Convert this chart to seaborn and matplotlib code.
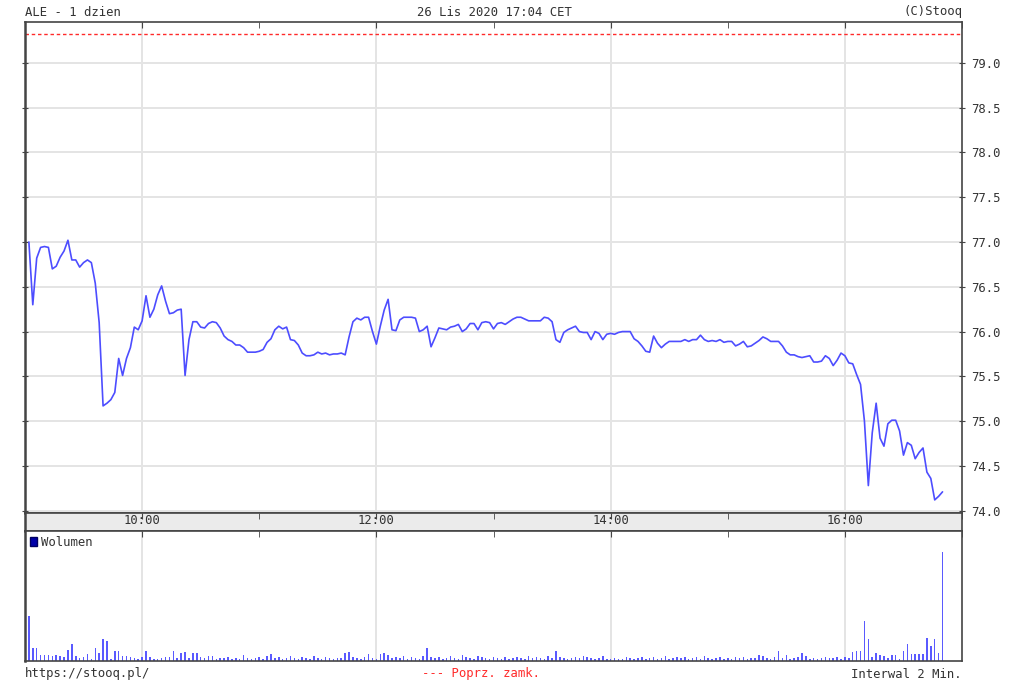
import pandas as pd
import matplotlib
matplotlib.use("Agg")
import matplotlib.pyplot as plt
import seaborn as sns
from matplotlib.patches import Patch
from matplotlib.ticker import MultipleLocator, FixedLocator, FuncFormatter

# ALE intraday quotes, 2-minute interval, 26 Nov 2020
price = [
    77.00, 76.30, 76.82, 76.94, 76.95, 76.94, 76.70, 76.73, 76.83, 76.90,
    77.02, 76.80, 76.80, 76.72, 76.77, 76.80, 76.77, 76.54, 76.10, 75.17,
    75.20, 75.24, 75.32, 75.70, 75.51, 75.70, 75.82, 76.05, 76.02, 76.12,
    76.40, 76.16, 76.25, 76.41, 76.51, 76.34, 76.20, 76.21, 76.24, 76.25,
    75.51, 75.91, 76.11, 76.11, 76.05, 76.04, 76.09, 76.11, 76.10, 76.04,
    75.95, 75.91, 75.89, 75.85, 75.85, 75.82, 75.77, 75.77, 75.77, 75.78,
    75.80, 75.88, 75.92, 76.02, 76.06, 76.03, 76.05, 75.91, 75.90, 75.85,
    75.76, 75.73, 75.73, 75.74, 75.77, 75.75, 75.76, 75.74, 75.75, 75.75,
    75.76, 75.74, 75.94, 76.11, 76.15, 76.13, 76.16, 76.16, 76.00, 75.86,
    76.06, 76.24, 76.36, 76.02, 76.01, 76.13, 76.16, 76.16, 76.16, 76.15,
    76.00, 76.02, 76.06, 75.83, 75.93, 76.04, 76.03, 76.02, 76.05, 76.06,
    76.08, 76.00, 76.03, 76.09, 76.09, 76.02, 76.10, 76.11, 76.10, 76.03,
    76.09, 76.10, 76.08, 76.11, 76.14, 76.16, 76.16, 76.14, 76.12, 76.12,
    76.12, 76.12, 76.16, 76.15, 76.11, 75.91, 75.88, 75.99, 76.02, 76.04,
    76.06, 76.00, 75.99, 75.99, 75.91, 76.00, 75.98, 75.91, 75.97, 75.98,
    75.97, 75.99, 76.00, 76.00, 76.00, 75.92, 75.89, 75.84, 75.78, 75.77,
    75.95, 75.87, 75.82, 75.86, 75.89, 75.89, 75.89, 75.89, 75.91, 75.89,
    75.91, 75.91, 75.96, 75.91, 75.89, 75.90, 75.89, 75.91, 75.88, 75.89,
    75.89, 75.84, 75.86, 75.89, 75.83, 75.84, 75.87, 75.90, 75.94, 75.92,
    75.89, 75.89, 75.89, 75.84, 75.77, 75.74, 75.74, 75.72, 75.71, 75.72,
    75.73, 75.66, 75.66, 75.67, 75.73, 75.70, 75.62, 75.68, 75.76, 75.73,
    75.65, 75.64, 75.52, 75.41, 75.00, 74.28, 74.87, 75.20, 74.81, 74.72,
    74.97, 75.01, 75.01, 74.89, 74.62, 74.76, 74.73, 74.58, 74.65, 74.70,
    74.43, 74.36, 74.12, 74.16, 74.21,
]

# volume per bar (relative units)
volume = [
    45, 13, 13, 6, 6, 6, 5, 6, 5, 4,
    11, 17, 5, 3, 4, 7, 2, 13, 8, 22,
    20, 2, 10, 10, 5, 5, 4, 3, 2, 4,
    10, 4, 2, 2, 3, 4, 4, 10, 3, 8,
    9, 3, 8, 8, 4, 3, 5, 5, 2, 3,
    3, 4, 2, 3, 2, 6, 3, 2, 3, 4,
    2, 5, 7, 3, 4, 2, 3, 5, 3, 2,
    4, 3, 2, 5, 3, 2, 4, 3, 2, 3,
    3, 8, 9, 4, 3, 2, 4, 7, 3, 2,
    7, 8, 6, 3, 4, 3, 5, 2, 4, 3,
    2, 5, 13, 4, 3, 4, 2, 3, 5, 3,
    2, 6, 4, 3, 2, 5, 4, 3, 2, 4,
    3, 2, 4, 2, 3, 4, 3, 2, 5, 3,
    4, 3, 2, 5, 3, 10, 4, 3, 2, 3,
    4, 3, 5, 4, 3, 2, 3, 5, 2, 2,
    3, 2, 2, 4, 3, 2, 3, 4, 2, 3,
    4, 2, 3, 5, 2, 3, 4, 3, 4, 2,
    3, 4, 2, 5, 3, 2, 3, 4, 2, 3,
    2, 4, 3, 4, 2, 3, 3, 6, 5, 3,
    2, 4, 10, 3, 6, 2, 3, 4, 8, 5,
    2, 3, 2, 3, 4, 3, 3, 4, 2, 4,
    3, 9, 10, 10, 40, 22, 4, 8, 6, 5,
    3, 6, 6, 2, 10, 17, 7, 7, 7, 7,
    23, 15, 22, 8, 109,
]

prev_close = 79.32
session = (9, 17)
label_hours = [10, 12, 14, 16]

times = pd.date_range("2020-11-26 09:02", periods=len(price), freq="2min")
df = pd.DataFrame({"hour": times.hour + times.minute / 60,
                   "price": price, "volume": volume})

sns.set_style("white")
plt.rcParams['font.family'] = ['DejaVu Sans Mono']
plt.rcParams['font.size'] = 8.8
plt.rcParams['text.color'] = '#333333'

line_col = '#4d4dff'
grid_col = '#e4e4e4'
spine_col = '#444444'

fig = plt.figure(figsize=(10.24, 6.92), dpi=100)
ax = fig.add_axes([0.0244, 0.2587, 0.9151, 0.7088])
band = fig.add_axes([0.0244, 0.2327, 0.9151, 0.026])
axv = fig.add_axes([0.0244, 0.0448, 0.9151, 0.1879])

# price panel
sns.lineplot(data=df, x="hour", y="price", ax=ax, color=line_col, lw=1.2)
ax.axhline(prev_close, color='#ff2a2a', lw=1, ls=(0, (2.5, 2)))
ax.set_xlim(*session)
ax.set_ylim(73.974, 79.452)
ax.xaxis.set_major_locator(FixedLocator(label_hours))
ax.xaxis.set_minor_locator(MultipleLocator(1))
ax.yaxis.set_major_locator(MultipleLocator(0.5))
ax.yaxis.set_major_formatter(FuncFormatter(lambda v, p: f"{v:.1f}"))
ax.grid(True, which='major', color=grid_col, lw=1.4)
ax.set_axisbelow(True)
ax.tick_params(axis='x', which='both', top=True, bottom=False, direction='in',
               length=4, color=spine_col, labelbottom=False)
ax.tick_params(axis='y', left=True, right=True, direction='inout', length=5,
               color=spine_col, labelleft=False, labelright=True, pad=4,
               labelsize=8.8, labelcolor='#333333')
ax.set_xlabel("")
ax.set_ylabel("")

# time band
band.set_facecolor('#ebebeb')
band.set_xlim(*session)
band.set_ylim(0, 1)
band.set_yticks([])
band.xaxis.set_major_locator(FixedLocator(label_hours))
band.xaxis.set_minor_locator(MultipleLocator(1))
band.xaxis.set_major_formatter(FuncFormatter(lambda v, p: f"{int(v)}:00"))
band.tick_params(axis='x', which='both', top=True, bottom=False, direction='in',
                 length=4, color=spine_col, labelbottom=True, pad=-12.5,
                 labelsize=8.8, labelcolor='#333333')

# volume panel
axv.bar(df["hour"], df["volume"], width=0.013, color='#5a5aff', linewidth=0)
axv.set_xlim(*session)
axv.set_ylim(0, 130)
axv.set_yticks([])
axv.xaxis.set_major_locator(FixedLocator(label_hours))
axv.xaxis.set_minor_locator(MultipleLocator(1))
axv.grid(True, axis='x', which='major', color=grid_col, lw=1.4)
axv.set_axisbelow(True)
axv.tick_params(axis='x', which='both', top=True, bottom=False, direction='in',
                length=4, color=spine_col, labelbottom=False)
axv.legend(handles=[Patch(facecolor='#0000a8', edgecolor='#000060', label='Wolumen')],
           loc='upper left', frameon=False, handlelength=0.6, handleheight=0.7,
           handletextpad=0.3, borderaxespad=0.2, borderpad=0.2, fontsize=8.8)

for a in (ax, band, axv):
    for s in a.spines.values():
        s.set_color(spine_col)
        s.set_linewidth(1.2)
    a.spines['left'].set_linewidth(1.8)

# header and footer
fig.text(25 / 1024, 1 - 12 / 692, "ALE - 1 dzien", ha='left', va='center')
fig.text(494 / 1024, 1 - 12 / 692, "26 Lis 2020 17:04 CET", ha='center', va='center')
fig.text(962 / 1024, 1 - 12 / 692, "(C)Stooq", ha='right', va='center')
fig.text(25 / 1024, 1 - 674 / 692, "https://stooq.pl/", ha='left', va='center')
fig.text(481 / 1024, 1 - 674 / 692, "--- Poprz. zamk.", ha='center', va='center',
         color='#ff2a2a')
fig.text(962 / 1024, 1 - 674 / 692, "Interwal 2 Min.", ha='right', va='center')

fig.savefig("out.png", dpi=100)
